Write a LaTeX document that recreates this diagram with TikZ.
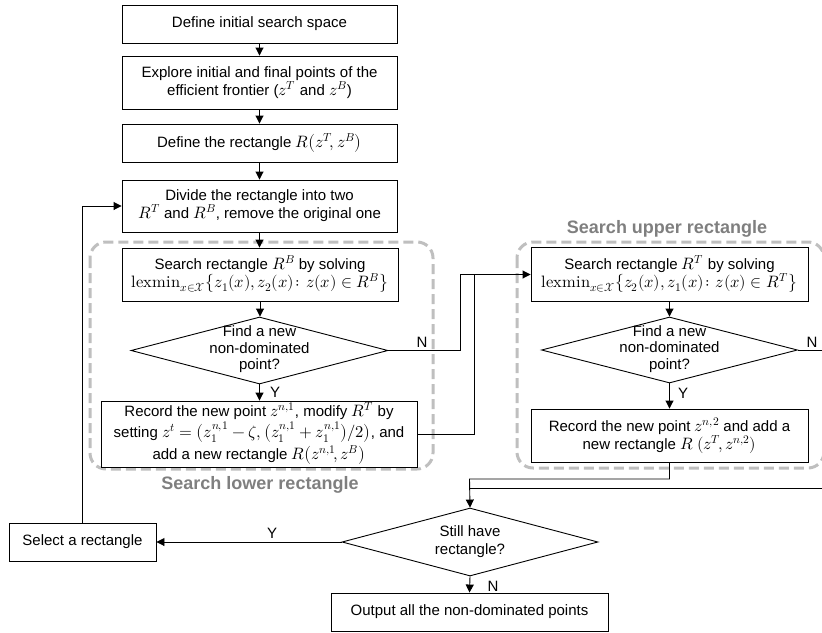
\documentclass[tikz,border=0pt]{standalone}
\usepackage{unicode-math}
\setmainfont{Liberation Sans}
\setmathfont{Latin Modern Math}[Scale=1.1]
\usetikzlibrary{shapes.geometric,arrows.meta}
\newcommand{\fs}{\fontsize{15}{18}\selectfont}
\newcommand{\fd}{\fontsize{15}{16.5}\selectfont}
\newcommand{\ft}{\fontsize{18}{21}\selectfont\bfseries}
\definecolor{dashgray}{HTML}{BFBFBF}
\definecolor{titlegray}{HTML}{7F7F7F}
\begin{document}
\begin{tikzpicture}[x=1pt,y=-1pt,
  box/.style={draw, line width=0.9pt, align=center, inner sep=2pt, font=\fs},
  dia/.style={draw, diamond, line width=0.9pt, inner sep=0pt},
  lbl/.style={font=\fs, inner sep=1pt},
  arr/.style={line width=0.9pt, -{Triangle[length=8pt,width=8pt]}},
  ln/.style={line width=0.9pt},
  grp/.style={draw=dashgray, line width=3pt, dash pattern=on 10pt off 5pt, rounded corners=16pt},
  ttl/.style={font=\ft, text=titlegray}]
\useasboundingbox (0,0) rectangle (822,632);

% dashed groups
\draw[grp] (90,242) rectangle (433,469);
\draw[grp] (517,242) rectangle (824,468);
\node[ttl] (tl) at (260,485) {Search lower rectangle};
\node[ttl] (tu) at (667,229) {Search upper rectangle};

% main column
\node[box, minimum width=275pt, minimum height=38pt] (b1) at (259.5,24) {Define initial search space};
\node[box, minimum width=275pt, minimum height=53pt] (b2) at (259.5,82.5) {Explore initial and final points of the\\efficient frontier ($z^T$ and $z^B$)};
\node[box, minimum width=275pt, minimum height=38pt] (b3) at (259.5,143) {Define the rectangle $R\big(z^T\!,z^B\big)$};
\node[box, minimum width=275pt, minimum height=52pt] (b4) at (259.5,206) {Divide the rectangle into two\\$R^T$ and $R^B$, remove the original one};

% lower search
\node[box, minimum width=276pt, minimum height=53pt] (b5) at (260,274.5) {Search rectangle $R^B$ by solving\\$\symup{lexmin}_{x\in\mathcal{X}}\big\{z_1(x),z_2(x)\colon z(x)\in R^B\big\}$};
\node[dia, minimum width=257pt, minimum height=67pt] (d1) at (259.5,350.5) {};
\node[align=center, font=\fd, inner sep=0pt] (d1t) at ([yshift=1pt]d1.center) {Find a new\\non-dominated\\point?};
\node[box, minimum width=316pt, minimum height=62pt] (r1) at (259,434) {Record the new point $z^{n,1}$, modify $R^T$ by\\[1pt]setting $z^t=\big(z_1^{n,1}-\zeta,\big(z_1^{n,1}+z_1^{n,1}\big)/2\big)$, and\\[1pt]add a new rectangle $R\big(z^{n,1}\!,z^B\big)$};

% upper search
\node[box, minimum width=277pt, minimum height=54pt] (bT) at (669.5,274.5) {Search rectangle $R^T$ by solving\\$\symup{lexmin}_{x\in\mathcal{X}}\big\{z_2(x),z_1(x)\colon z(x)\in R^T\big\}$};
\node[dia, minimum width=256pt, minimum height=66pt] (dT) at (669.5,350) {};
\node[align=center, font=\fd, inner sep=0pt] (dTt) at ([yshift=1pt]dT.center) {Find a new\\non-dominated\\point?};
\node[box, minimum width=277pt, minimum height=53pt] (rT) at (669.5,435.5) {Record the new point $z^{n,2}$ and add a\\new rectangle $R\ (z^T\!,z^{n,2})$};

% bottom
\node[dia, minimum width=256pt, minimum height=68pt] (d3) at (470,542) {};
\node[align=center, font=\fs, inner sep=0pt] (d3t) at (d3.center) {Still have\\rectangle?};
\node[box, minimum width=147pt, minimum height=38pt] (sel) at (82.5,542) {Select a rectangle};
\node[box, minimum width=277pt, minimum height=38pt] (out) at (469.5,612) {Output all the non-dominated points};

% helper coordinates
\coordinate (j1) at (460,274.5);
\coordinate (j2) at (474,274.5);
\coordinate (m1) at (469.5,479);
\coordinate (m2) at (469.5,488);
\coordinate (e1) at (832,488);

% connectors
\draw[arr] (b1) -- (b2);
\draw[arr] (b2) -- (b3);
\draw[arr] (b3) -- (b4);
\draw[arr] (b4.south) -- (b4.south |- b5.north);
\draw[arr] (b5.south) -- (b5.south |- d1.north);
\draw[arr] (d1.south) -- (d1.south |- r1.north);
\draw[arr] (d1.east) -- (j1 |- d1.east) -- (j1) -- (bT.west);
\draw[ln] (r1.east) -- (j2 |- r1.east) -- (j2);
\draw[arr] (bT.south) -- (dT.north);
\draw[arr] (dT.south) -- (rT.north);
\draw[arr] (rT.south) -- (rT.south |- m1) -- (m1) -- (d3.north);
\draw[ln] (dT.east) -- (dT.east -| e1) -- (e1) -- (m2);
\draw[arr] (d3.west) -- (sel.east);
\draw[arr] (d3.south) -- (out.north);
\draw[arr] (sel.north) -- (sel.north |- b4.west) -- (b4.west);

% labels
\node[lbl] (n1) at (422,342) {N};
\node[lbl] (y1) at (275,392) {Y};
\node[lbl] (n2) at (812,342) {N};
\node[lbl] (y2) at (683,393) {Y};
\node[lbl] (y3) at (272,533) {Y};
\node[lbl] (n3) at (493,586) {N};
\end{tikzpicture}
\end{document}
